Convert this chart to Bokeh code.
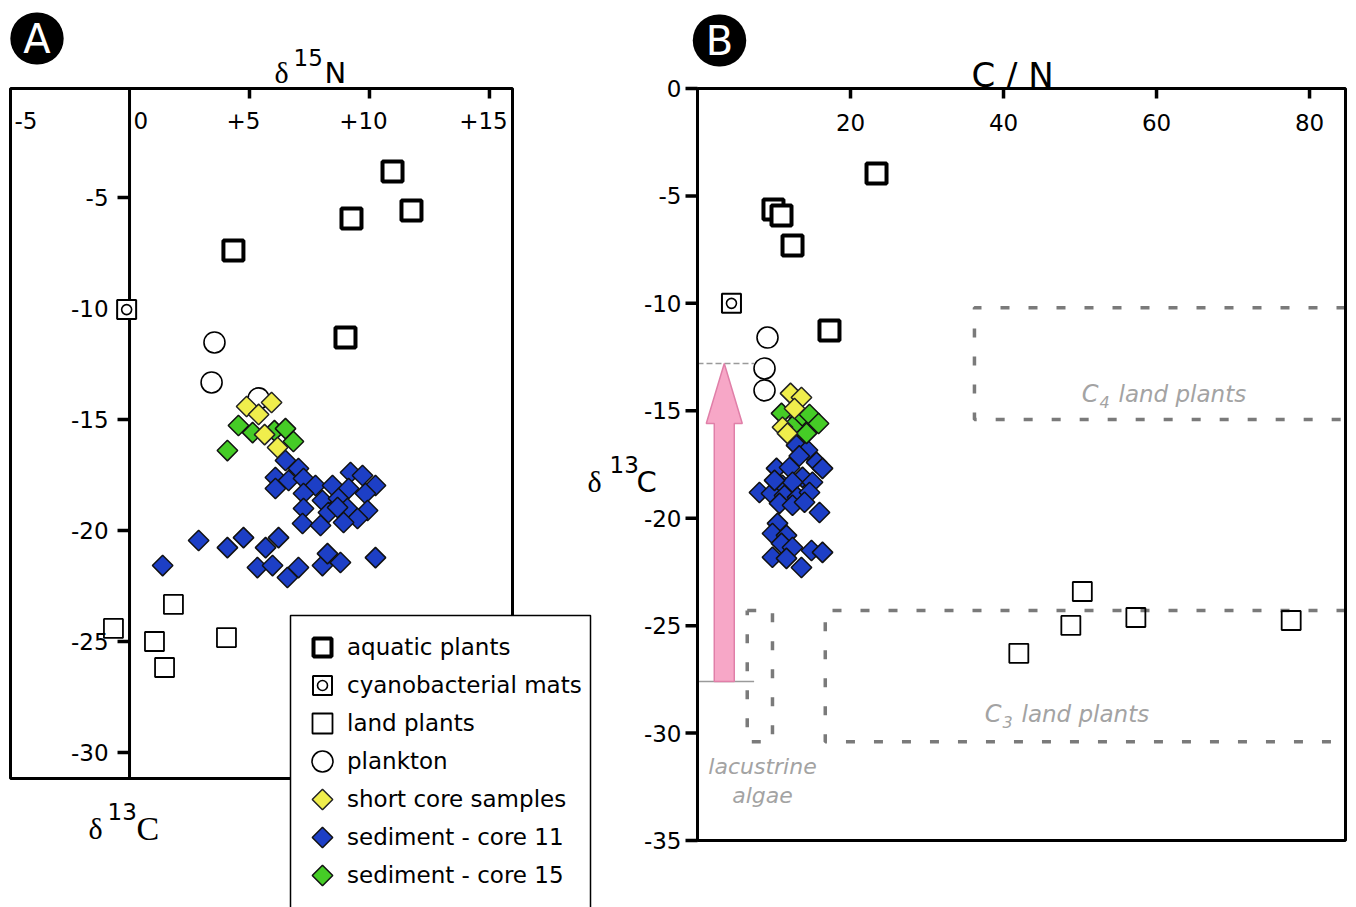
import math
from bokeh.plotting import figure
from bokeh.layouts import row
from bokeh.models import Range1d, Label, Legend, LegendItem
from bokeh.core.properties import value
from bokeh.embed import file_html
from bokeh.resources import INLINE

# ---------------- Panel A data: x = d15N, y = d13C ----------------
a_aquatic_x = [10.96, 9.25, 11.75, 4.33, 9.0]
a_aquatic_y = [-3.83, -5.95, -5.59, -7.39, -11.31]
a_cyano_x = [-0.12]
a_cyano_y = [-10.05]
a_land_x = [-0.67, 1.83, 1.04, 1.46, 4.04]
a_land_y = [-24.41, -23.33, -25.0, -26.17, -24.82]
a_plankton_x = [3.54, 3.42, 5.38]
a_plankton_y = [-11.53, -13.33, -14.05]
a_short_x = [4.88, 5.92, 5.38, 5.63, 6.17]
a_short_y = [-14.41, -14.23, -14.77, -15.68, -16.26]
a_core15_x = [4.54, 5.13, 6.04, 6.5, 6.83, 4.08]
a_core15_y = [-15.27, -15.59, -15.50, -15.41, -15.99, -16.40]
a_core11_x = [6.50, 7.04, 6.08, 6.63, 7.25, 6.08, 7.75, 7.25, 8.46, 9.21, 9.71, 9.13,
              10.25, 9.83, 8.04, 8.71, 7.25, 8.29, 9.08, 9.92, 9.50, 7.21, 7.96, 8.92,
              8.67, 1.38, 2.88, 4.08, 4.75, 5.67, 6.21, 5.33, 5.96, 6.58, 7.04, 8.04,
              8.25, 8.79, 10.25]
a_core11_y = [-16.85, -17.21, -17.61, -17.75, -17.66, -18.11, -17.97, -18.33, -17.97,
              -17.39, -17.52, -18.11, -17.97, -18.33, -18.65, -18.56, -19.01, -19.19,
              -19.01, -19.10, -19.46, -19.68, -19.77, -19.64, -18.96, -21.58, -20.45,
              -20.77, -20.32, -20.77, -20.32, -21.67, -21.58, -22.12, -21.67, -21.58,
              -21.04, -21.44, -21.22]

a_x_lim = (-4.96, 15.96)      # d15N axis limits
a_y_lim = (-31.17, -0.09)     # d13C axis limits
a_x_tick_vals = [-5, 0, 5, 10, 15]
a_x_tick_labels = ["-5", "0", "+5", "+10", "+15"]
a_y_tick_vals = [-5, -10, -15, -20, -25, -30]
a_y_tick_labels = ["-5", "-10", "-15", "-20", "-25", "-30"]

# ---------------- Panel B data: x = C/N, y = d13C ----------------
b_aquatic_x = [23.4, 9.93, 10.98, 12.42, 17.25]
b_aquatic_y = [-3.96, -5.63, -5.91, -7.31, -11.26]
b_cyano_x = [4.44]
b_cyano_y = [-10.0]
b_land_x = [50.3, 48.8, 57.3, 42.0, 77.6]
b_land_y = [-23.41, -24.99, -24.62, -26.29, -24.76]
b_plankton_x = [9.15, 8.76, 8.76]
b_plankton_y = [-11.59, -13.03, -14.05]
b_short_x = [12.16, 13.59, 12.68, 11.11, 11.76]
b_short_y = [-14.19, -14.38, -14.89, -15.77, -16.05]
b_core15_x = [10.98, 13.33, 14.64, 15.82, 14.25, 12.42]
b_core15_y = [-15.12, -15.36, -15.17, -15.59, -16.05, -15.73]
b_core11_x = [12.94, 14.38, 15.56, 16.34, 10.33, 12.03, 13.73, 11.11, 12.42, 15.03,
              8.10, 9.67, 11.37, 13.07, 14.64, 10.72, 12.42, 13.99, 15.95, 10.46,
              9.80, 11.63, 10.98, 12.42, 14.90, 16.34, 9.80, 11.63, 13.59, 13.3, 10.07]
b_core11_y = [-16.61, -16.84, -17.40, -17.68, -17.68, -17.64, -18.10, -18.47, -18.33,
              -18.33, -18.80, -18.85, -18.94, -19.03, -18.80, -19.31, -19.40, -19.26,
              -19.73, -20.24, -20.71, -20.80, -21.17, -21.36, -21.50, -21.59, -21.82,
              -21.87, -22.29, -17.1, -18.24]

b_x_lim = (0, 84.7)
b_y_lim = (-35, 0)
b_x_tick_vals = [20, 40, 60, 80]
b_x_tick_labels = ["20", "40", "60", "80"]
b_y_tick_vals = [0, -5, -10, -15, -20, -25, -30, -35]
b_y_tick_labels = ["0", "-5", "-10", "-15", "-20", "-25", "-30", "-35"]

# source regions (C/N range, d13C range); None = open towards high C/N
b_region_names = ["C4 land plants", "C3 land plants", "lacustrine algae"]
b_region_cn_lo = [36.2, 16.7, 6.5]
b_region_cn_hi = [None, None, 9.8]
b_region_c_lo = [-15.4, -30.4, -30.4]
b_region_c_hi = [-10.2, -24.3, -24.3]

# shift of d13C indicated by the arrow
b_arrow_cn = 3.5
b_arrow_from = -27.6
b_arrow_to = -12.8

legend_labels = ["aquatic plants", "cyanobacterial mats", "land plants", "plankton",
                 "short core samples", "sediment - core 11", "sediment - core 15"]

# ---------------- styling / layout ----------------
BLUE = "#1d3fc6"
GREEN = "#45cc26"
YELLOW = "#f0ee4c"
GREY = "#a3a3a3"
DASH_GREY = "#7a7a7a"
FONT = "DejaVu Sans"
SERIF = "Liberation Serif"

W_A, W_B, H = 608, 748, 907
A_BOX = (10, 88, 512, 778)      # axes box in canvas pixels (left, top, right, bottom)
B_BOX = (89, 88, 737, 840)
# legend box (page pixels) and its rows
LEG_LEFT, LEG_RIGHT, LEG_TOP = 290, 590, 615
LEG_PAD, LEG_ROW, LEG_KEY_W = 8, 38, 49
LEG_FIRST = 647                 # centre of the first legend row


def ranges(box, xlim, ylim, w, h):
    l, t, r, b = box
    kx = (r - l) / (xlim[1] - xlim[0])
    ky = (b - t) / (ylim[1] - ylim[0])
    xr = Range1d(xlim[0] - l / kx, xlim[1] + (w - r) / kx)
    yr = Range1d(ylim[0] - (h - b) / ky, ylim[1] + t / ky)
    return xr, yr, kx, ky


xrA, yrA, kxA, kyA = ranges(A_BOX, a_x_lim, a_y_lim, W_A, H)
xrB, yrB, kxB, kyB = ranges(B_BOX, b_x_lim, b_y_lim, W_B, H)
B_OFF = W_A  # panel B canvas starts here on the page

# helpers: page-pixel anchor -> data coordinates (text annotations / legend keys)
def ax(px): return a_x_lim[0] + (px - A_BOX[0]) / kxA
def ay(py): return a_y_lim[1] - (py - A_BOX[1]) / kyA
def bx(px): return b_x_lim[0] + (px - B_OFF - B_BOX[0]) / kxB
def by(py): return b_y_lim[1] - (py - B_BOX[1]) / kyB


def label(p, x, y, text, size, font=FONT, color="black", align="left",
          baseline="alphabetic", style="normal", **kw):
    p.add_layout(Label(x=x, y=y, text=text, text_font=font,
                       text_font_size=f"{size}px", text_color=color,
                       text_align=align, text_baseline=baseline,
                       text_font_style=style, **kw))


def badge(p, x, y, letter):
    p.add_layout(Label(x=x, y=y, text=letter, text_font=FONT, text_font_size="40px",
                       text_color="white", text_align="center", text_baseline="middle",
                       background_fill_color="black", border_radius=27,
                       padding=dict(left=13, right=13, top=3, bottom=3)))


def make_fig(w, xr, yr):
    p = figure(width=w, height=H, x_range=xr, y_range=yr, output_backend="svg",
               toolbar_location=None, x_axis_location=None, y_axis_location=None,
               title=None, min_border=0, outline_line_color=None,
               background_fill_color="white", border_fill_color="white")
    p.grid.visible = False
    return p


def frame_box(p, xlim, ylim):
    p.quad(left=[xlim[0]], right=[xlim[1]], bottom=[ylim[0]], top=[ylim[1]],
           fill_alpha=0, line_color="black", line_width=3)


STYLES = {
    "aquatic": dict(marker="square", size=20, fill_color="white", line_color="black",
                    line_width=4),
    "cyano_sq": dict(marker="square", size=19, fill_color="white", line_color="black",
                     line_width=2),
    "cyano_ring": dict(marker="circle", size=10, fill_color="white", line_color="black",
                       line_width=1.6),
    "land": dict(marker="square", size=19, fill_alpha=0, line_color="black",
                 line_width=1.8),
    "plankton": dict(marker="circle", size=21, fill_color="white", line_color="black",
                     line_width=1.6),
    "core11": dict(marker="square", size=14.5, angle=math.pi / 4, fill_color=BLUE,
                   line_color="#111111", line_width=1.5),
    "core15": dict(marker="square", size=14.5, angle=math.pi / 4, fill_color=GREEN,
                   line_color="#111111", line_width=1.5),
    "short": dict(marker="square", size=14.5, angle=math.pi / 4, fill_color=YELLOW,
                  line_color="#222222", line_width=1.5),
}


def markers(p, d):
    r = {}
    for key in ["aquatic", "cyano_sq", "cyano_ring", "land", "plankton",
                "core11", "core15", "short"]:
        src = d["cyano"] if key.startswith("cyano") else d[key]
        r[key] = p.scatter(src[0], src[1], **STYLES[key])
    return r


# ======================= Panel A =======================
pA = make_fig(W_A, xrA, yrA)
frame_box(pA, a_x_lim, a_y_lim)
# vertical axis drawn at d15N = 0
pA.segment(x0=[0], y0=[a_y_lim[0]], x1=[0], y1=[a_y_lim[1]], line_color="black",
           line_width=3)
nA = len(a_y_tick_vals)
pA.segment(x0=[0] * nA, y0=a_y_tick_vals, x1=[-12 / kxA] * nA, y1=a_y_tick_vals,
           line_color="black", line_width=3.5)
pA.text(x=[0] * nA, y=a_y_tick_vals, text=a_y_tick_labels,
        text_align="right", text_baseline="middle", x_offset=-21,
        text_font=value(FONT), text_font_size="23px", text_color="black")
# top ticks (inward)
top_ticks = a_x_tick_vals[2:]
pA.segment(x0=top_ticks, y0=[a_y_lim[1]] * 3, x1=top_ticks,
           y1=[a_y_lim[1] - 10 / kyA] * 3, line_color="black", line_width=3.5)
pA.text(x=[max(v, a_x_lim[0]) for v in a_x_tick_vals[:2]], y=[a_y_lim[1]] * 2,
        text=a_x_tick_labels[:2], text_align="left", text_baseline="middle",
        x_offset=4, y_offset=32, text_font=value(FONT), text_font_size="23px",
        text_color="black")
pA.text(x=top_ticks, y=[a_y_lim[1]] * 3, text=a_x_tick_labels[2:],
        text_align="center", text_baseline="middle", x_offset=-6, y_offset=32,
        text_font=value(FONT), text_font_size="23px", text_color="black")

rA = markers(pA, {
    "aquatic": (a_aquatic_x, a_aquatic_y), "cyano": (a_cyano_x, a_cyano_y),
    "land": (a_land_x, a_land_y), "plankton": (a_plankton_x, a_plankton_y),
    "short": (a_short_x, a_short_y), "core11": (a_core11_x, a_core11_y),
    "core15": (a_core15_x, a_core15_y)})

# titles of panel A
badge(pA, ax(36.5), ay(38), "A")
label(pA, ax(274), ay(72), "δ", 30, font=SERIF)
label(pA, ax(293), ay(57), "15", 23)
label(pA, ax(324), ay(72), "N", 29)
label(pA, ax(88), ay(828), "δ", 30, font=SERIF)
label(pA, ax(107), ay(811), "13", 23)
label(pA, ax(136), ay(828), "C", 34, font=SERIF)
# the delta of panel B's y title sits left of panel B's canvas
label(pA, ax(587), ay(481), "δ", 30, font=SERIF)

# legend box (white, covers the axes frame) and its keys
pA.quad(left=[ax(LEG_LEFT)], right=[ax(LEG_RIGHT)], top=[ay(LEG_TOP)],
        bottom=[ay(H + 20)], fill_color="white", line_color="black", line_width=1.5)
legend_groups = [["aquatic"], ["cyano_sq", "cyano_ring"], ["land"], ["plankton"],
                 ["short"], ["core11"], ["core15"]]
key_x = ax(322)
for i, grp in enumerate(legend_groups):
    key_y = ay(LEG_FIRST + i * LEG_ROW)
    for k in grp:
        st = dict(STYLES[k])
        if k == "land":
            st.update(size=20)
        if k == "aquatic":
            st.update(size=18)
        pA.scatter([key_x], [key_y], **st)

leg_h = 2 * LEG_PAD + 7 * LEG_ROW
leg_top = LEG_FIRST - LEG_PAD - LEG_ROW / 2
legend = Legend(items=[LegendItem(label=lab, renderers=[rA[k] for k in grp])
                       for lab, grp in zip(legend_labels, legend_groups)],
                location=(LEG_LEFT, H - (leg_top + leg_h)), glyph_width=LEG_KEY_W,
                glyph_height=0, label_height=LEG_ROW, spacing=0, padding=LEG_PAD,
                margin=0, label_standoff=0, label_text_font=FONT,
                label_text_font_size="23px", label_text_color="black",
                border_line_alpha=0, background_fill_alpha=0)
pA.add_layout(legend)

# ======================= Panel B =======================
pB = make_fig(W_B, xrB, yrB)

# source regions (dashed), open-ended ones stop at the axis limit
reg_xs, reg_ys = [], []
for lo, hi, c0, c1 in zip(b_region_cn_lo, b_region_cn_hi, b_region_c_lo, b_region_c_hi):
    if hi is None:
        reg_xs.append([b_x_lim[1], lo, lo, b_x_lim[1]])
        reg_ys.append([c1, c1, c0, c0])
    else:
        reg_xs.append([lo, hi, hi, lo, lo])
        reg_ys.append([c1, c1, c0, c0, c1])
pB.multi_line(reg_xs, reg_ys, line_color=DASH_GREY, line_width=3.5, line_dash="9 19")

# arrow guide lines
pB.segment(x0=[0], y0=[b_arrow_to], x1=[7.4], y1=[b_arrow_to], line_color="#9a9a9a",
           line_width=1.5, line_dash="6 3")
pB.segment(x0=[0], y0=[b_arrow_from], x1=[7.4], y1=[b_arrow_from], line_color="#9a9a9a",
           line_width=1.3)

# block arrow built from its start/end values
sw, hw, hl = 10 / kxB, 18 / kxB, 60 / kyB
arrow_xs = [b_arrow_cn - sw, b_arrow_cn - sw, b_arrow_cn - hw, b_arrow_cn,
            b_arrow_cn + hw, b_arrow_cn + sw, b_arrow_cn + sw]
arrow_ys = [b_arrow_from, b_arrow_to - hl, b_arrow_to - hl, b_arrow_to,
            b_arrow_to - hl, b_arrow_to - hl, b_arrow_from]
pB.patch(arrow_xs, arrow_ys, fill_color="#f7a7c7", line_color="#e07fa8", line_width=1.5)

frame_box(pB, b_x_lim, b_y_lim)
nB = len(b_y_tick_vals)
pB.segment(x0=[0] * nB, y0=b_y_tick_vals, x1=[-12 / kxB] * nB, y1=b_y_tick_vals,
           line_color="black", line_width=3.5)
pB.text(x=[0] * nB, y=b_y_tick_vals, text=b_y_tick_labels, text_align="right",
        text_baseline="middle", x_offset=-16, text_font=value(FONT),
        text_font_size="23px", text_color="black")
pB.segment(x0=b_x_tick_vals, y0=[0] * 4, x1=b_x_tick_vals, y1=[-10 / kyB] * 4,
           line_color="black", line_width=3.5)
pB.text(x=b_x_tick_vals, y=[0] * 4, text=b_x_tick_labels, text_align="center",
        text_baseline="middle", y_offset=34, text_font=value(FONT),
        text_font_size="23px", text_color="black")

rB = markers(pB, {
    "aquatic": (b_aquatic_x, b_aquatic_y), "cyano": (b_cyano_x, b_cyano_y),
    "land": (b_land_x, b_land_y), "plankton": (b_plankton_x, b_plankton_y),
    "short": (b_short_x, b_short_y), "core11": (b_core11_x, b_core11_y),
    "core15": (b_core15_x, b_core15_y)})

# region labels
label(pB, bx(1098), by(393), "C", 24, color=GREY, align="right", style="italic")
label(pB, bx(1099), by(401), "4", 16, color=GREY, style="italic")
label(pB, bx(1118), by(393), "land plants", 23, color=GREY, style="italic")
label(pB, bx(1001), by(713), "C", 24, color=GREY, align="right", style="italic")
label(pB, bx(1002), by(721), "3", 16, color=GREY, style="italic")
label(pB, bx(1021), by(713), "land plants", 23, color=GREY, style="italic")
label(pB, bx(762), by(766), "lacustrine", 22, color=GREY, align="center", style="italic")
label(pB, bx(762), by(795), "algae", 22, color=GREY, align="center", style="italic")

# titles of panel B
badge(pB, bx(719), by(40), "B")
label(pB, bx(1012), by(74), "C / N", 34, align="center")
label(pB, bx(609), by(464), "13", 23)
label(pB, bx(636), by(481), "C", 29)

layout = row(pA, pB)
open("out.html", "w").write(file_html(layout, INLINE))
